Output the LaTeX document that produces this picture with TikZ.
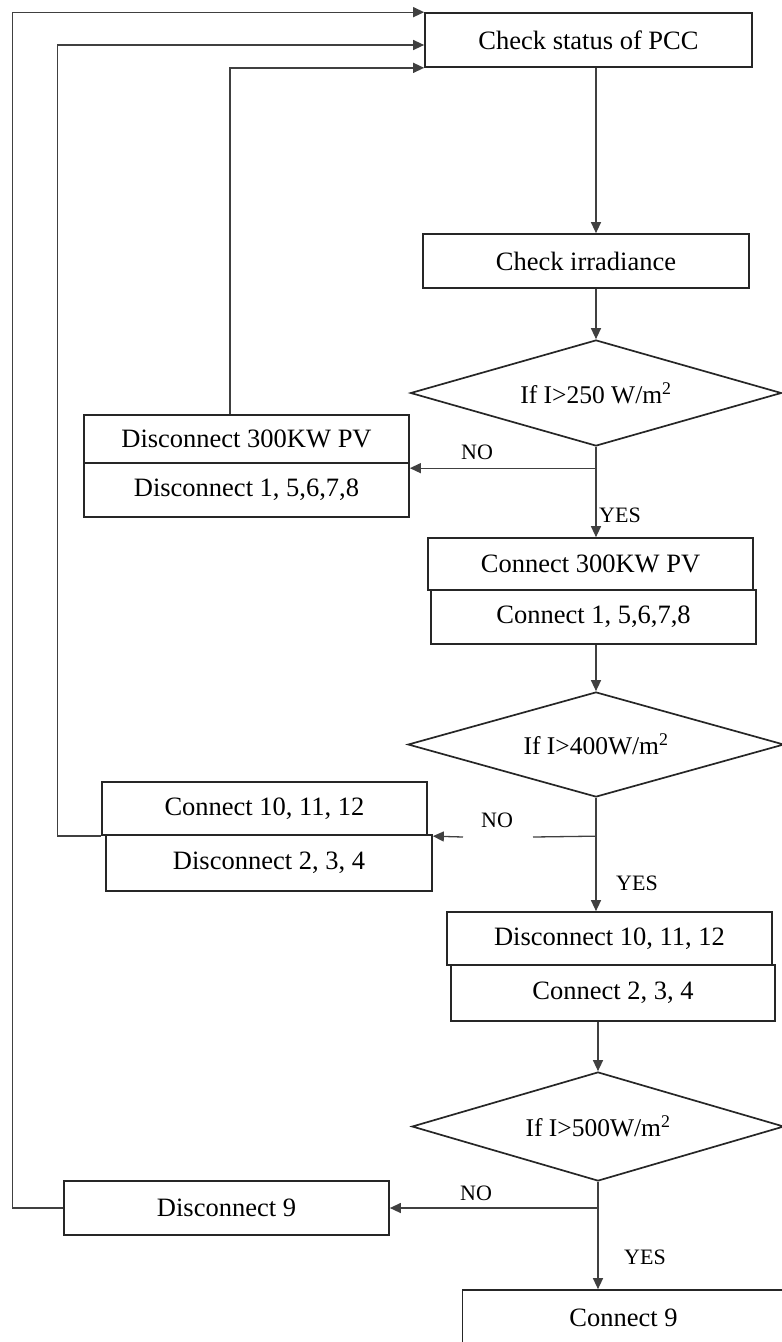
\documentclass[tikz,border=0pt]{standalone}
\usepackage{fontspec}
\setmainfont{Liberation Serif}
\usetikzlibrary{shapes.geometric,arrows.meta,calc}
\begin{document}
\begin{tikzpicture}[x=1pt,y=-1pt,
  box/.style={draw=black!85, line width=1.7pt, rectangle, inner sep=0pt, minimum width=325pt, font=\fontsize{26.5}{30}\selectfont},
  dec/.style={draw=black!85, line width=1.7pt, diamond, aspect=3.5, inner sep=0pt, font=\fontsize{25.5}{30}\selectfont},
  arr/.style={draw=black!75, line width=1.3pt, -{Triangle[length=11pt,width=10pt]}},
  ln/.style={draw=black!75, line width=1.3pt},
  lbl/.style={font=\fontsize{22}{26}\selectfont, inner sep=0pt}]
\useasboundingbox (0,0) rectangle (782,1342);
\clip (0,0) rectangle (782,1342);

% boxes
\node[box, minimum width=327pt, minimum height=54pt] (pcc) at (588.5,40) {Check status of PCC};
\node[box, minimum width=326pt, minimum height=54pt] (irr) at (586,261) {Check irradiance};
\node[dec, minimum width=371pt, minimum height=106pt] (d1) at (596,393) {If I>250 W/m\textsuperscript{2}};
\node[box, minimum height=48pt] (dis300) at (246.5,439) {Disconnect 300KW PV};
\node[box, minimum height=54pt] (dis158) at (246.5,490) {Disconnect 1, 5,6,7,8};
\node[box, minimum height=52pt] (con300) at (590.5,564) {Connect 300KW PV};
\node[box, minimum height=54pt] (con158) at (593.5,617) {Connect 1, 5,6,7,8};
\node[dec, minimum width=376pt, minimum height=105pt] (d2) at (596,744.5) {If I>400W/m\textsuperscript{2}};
\node[box, minimum height=53pt] (con1012) at (264.5,808.5) {Connect 10, 11, 12};
\node[box, minimum width=326pt, minimum height=56pt] (dis234) at (269,863) {Disconnect 2, 3, 4};
\node[box, minimum height=53pt] (dis1012) at (609.5,938.5) {Disconnect 10, 11, 12};
\node[box, minimum width=324pt, minimum height=56pt] (con234) at (613,993) {Connect 2, 3, 4};
\node[dec, minimum width=372pt, minimum height=109pt] (d3) at (598,1126.5) {If I>500W/m\textsuperscript{2}};
\node[box, minimum height=54pt] (dis9) at (226.5,1208) {Disconnect 9};
\node[box, minimum width=322pt, minimum height=60pt] (con9) at (623.5,1320) {\raisebox{4pt}{Connect 9}};

% main flow
\draw[arr] (pcc.south -| d1.north) -- (irr.north -| d1.north);
\draw[arr] (irr.south -| d1.north) -- (d1.north);
\draw[arr] (d1.south) -- (con300.north -| d1.south);
\coordinate (n1) at ($(dis158.north east)+(0,6)$);
\draw[arr] (d1.south |- n1) -- (n1);
\node[lbl] (no1) at (477,452) {NO};
\node[lbl] (yes1) at (620,515) {YES};

\draw[arr] (con158.south -| d2.north) -- (d2.north);
\draw[arr] (d2.south) -- (dis1012.north -| d2.south);
\coordinate (n2) at ($(dis234.north east)+(0,2)$);
\coordinate (g1) at (533,837);
\coordinate (g2) at (463,837);
\draw[ln] (d2.south |- n2) -- (g1);
\draw[arr] (g2) -- (n2);
\node[lbl] (no2) at (497,820) {NO};
\node[lbl] (yes2) at (637,883) {YES};

\draw[arr] (con234.south -| d3.north) -- (d3.north);
\draw[arr] (d3.south) -- (con9.north -| d3.south);
\draw[arr] (d3.south |- dis9.east) -- (dis9.east);
\node[lbl] (no3) at (476,1193) {NO};
\node[lbl] (yes3) at (645,1257) {YES};

% feedback loops
\draw[arr] (dis9.west) -- ++(-51,0) |- (pcc.north west);
\draw[arr] (con1012.south west) -- ++(-44,0) |- ($(pcc.west)+(0,5)$);
\draw[arr] ($(dis300.north)+(-16.5,0)$) |- (pcc.south west);
\end{tikzpicture}
\end{document}
